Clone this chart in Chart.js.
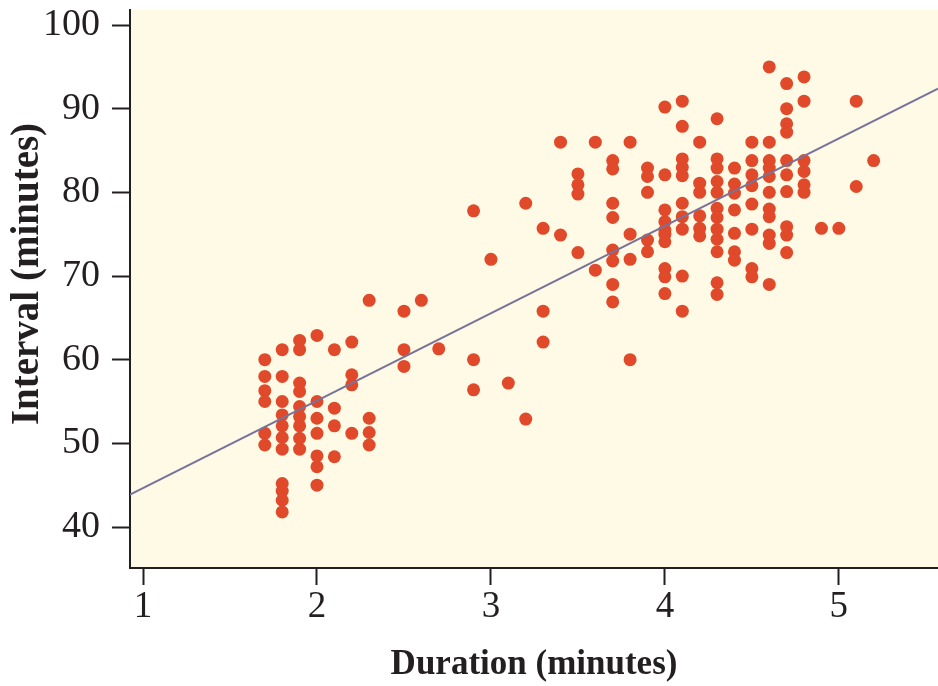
<!DOCTYPE html>
<html>
<head>
<meta charset="utf-8">
<script src="https://cdn.jsdelivr.net/npm/chart.js@4/dist/chart.umd.min.js"></script>
<style>
  html, body { margin: 0; padding: 0; background: #ffffff; }
  canvas { display: block; }
</style>
</head>
<body>
<canvas id="c" width="938" height="686"></canvas>
<script>
// eruption durations (minutes) and the intervals (minutes) observed at each
const durations = [1.7, 1.8, 1.9, 2.0, 2.1, 2.2, 2.3, 2.5, 2.6, 2.7, 2.9, 3.0, 3.1, 3.2, 3.3, 3.4, 3.5, 3.6, 3.7, 3.8, 3.9,
	4.0, 4.1, 4.2, 4.3, 4.4, 4.5, 4.6, 4.7, 4.8, 4.9, 5.0, 5.1, 5.2];
const intervals = [
	[60.0, 58.0, 56.3, 55.0, 51.2, 49.8],
	[61.2, 58.0, 55.0, 53.4, 52.1, 50.7, 49.3, 45.2, 44.3, 43.2, 41.8],
	[62.3, 61.2, 57.2, 56.2, 54.4, 53.2, 52.1, 50.6, 49.3],
	[62.9, 55.0, 53.0, 51.2, 48.5, 47.2, 45.0],
	[61.2, 54.2, 52.1, 48.4],
	[62.1, 58.2, 57.0, 51.2],
	[67.1, 53.0, 51.3, 49.8],
	[65.8, 61.2, 59.2],
	[67.1],
	[61.3],
	[77.8, 60.0, 56.4],
	[72.0],
	[57.2],
	[78.7, 52.9],
	[75.7, 65.8, 62.1],
	[86.0, 74.9],
	[82.2, 80.9, 79.8, 72.8],
	[86.0, 70.7],
	[83.8, 82.8, 78.7, 77.0, 73.1, 71.8, 69.0, 66.9],
	[86.0, 75.0, 72.0, 60.0],
	[82.9, 81.9, 80.0, 74.3, 72.9],
	[90.2, 82.1, 77.9, 76.5, 75.5, 75.0, 74.1, 70.9, 69.9, 67.9],
	[90.9, 87.9, 84.0, 83.0, 82.0, 78.7, 77.1, 75.6, 70.0, 65.8],
	[86.0, 81.1, 80.0, 77.2, 75.7, 74.8],
	[88.8, 84.0, 82.9, 81.3, 80.0, 78.1, 77.0, 75.6, 74.4, 72.9, 69.2, 67.8],
	[82.9, 81.0, 79.9, 77.9, 75.1, 72.9, 71.9],
	[86.0, 83.8, 82.1, 80.8, 78.6, 75.6, 70.9, 69.9],
	[95.0, 86.0, 83.8, 82.9, 81.9, 80.0, 78.0, 77.1, 74.9, 73.9, 69.0],
	[93.0, 90.0, 88.2, 87.2, 83.8, 82.1, 80.1, 75.9, 74.9, 72.8],
	[93.8, 90.9, 83.8, 82.5, 80.9, 80.0],
	[75.7],
	[75.7],
	[90.9, 80.7],
	[83.8]
];

// least-squares line
const fitIntercept = 34.2;
const fitSlope = 10.45;

const xTicks = [1, 2, 3, 4, 5];
const yTicks = [40, 50, 60, 70, 80, 90, 100];
const xRange = [0.925, 5.57];
const yRange = [35.1, 101.8];

// Build the point list
var points = [];
for(var i = 0; i < durations.length; i++){
	for(var j = 0; j < intervals[i].length; j++) points.push({'x':durations[i],'y':intervals[i][j]});
}
var fitLine = [
	{'x':xRange[0],'y':fitIntercept + fitSlope*xRange[0]},
	{'x':xRange[1],'y':fitIntercept + fitSlope*xRange[1]}
];

const serif = '"Liberation Serif", "Times New Roman", serif';
const ink = '#231f20';

// cream panel behind the points; the y title sits a little above centre
const panel = {
	'id':'panel',
	'beforeDraw': function(chart){
		var a = chart.chartArea, ctx = chart.ctx, sy = chart.scales.y;
		ctx.save();
		ctx.fillStyle = '#fefae6';
		ctx.fillRect(a.left, a.top, a.right - a.left, a.bottom - a.top);
		ctx.restore();
		if(!sy._titleShift){
			var orig = sy.drawTitle;
			sy.drawTitle = function(){
				this.ctx.save();
				this.ctx.translate(0,-15);
				orig.apply(this,arguments);
				this.ctx.restore();
			};
			sy._titleShift = true;
		}
	}
};

// fixed axis boxes, no overhang padding from the labels
function fixBox(size){
	return function(s){
		if(s.isHorizontal()) s.height = size;
		else s.width = size;
		s.paddingLeft = s.paddingRight = s.paddingTop = s.paddingBottom = 0;
	};
}

new Chart(document.getElementById('c'), {
	'type':'scatter',
	'data':{
		'datasets':[
			{'type':'line','data':fitLine,'borderColor':'#77739a','borderWidth':2,'pointRadius':0,'fill':false,'tension':0},
			{'data':points,'backgroundColor':'#e0492a','borderWidth':0,'pointRadius':6.5,'pointHoverRadius':6.5}
		]
	},
	'options':{
		'responsive':false,
		'animation':false,
		'events':[],
		'layout':{'autoPadding':false,'padding':{'left':0,'top':10,'right':0,'bottom':0}},
		'plugins':{'legend':{'display':false},'tooltip':{'enabled':false}},
		'scales':{
			'x':{
				'type':'linear','min':xRange[0],'max':xRange[1],
				'afterBuildTicks': function(s){ s.ticks = xTicks.map(function(v){ return {'value':v}; }); },
				'afterFit': fixBox(118),
				'border':{'display':true,'color':ink,'width':2},
				'grid':{'drawOnChartArea':false,'drawTicks':true,'tickLength':17,'tickColor':ink,'tickWidth':2,'color':ink},
				'ticks':{'color':ink,'padding':0,'maxRotation':0,'font':{'family':serif,'size':37}},
				'title':{'display':true,'text':'Duration (minutes)','color':ink,'padding':{'top':0,'bottom':0},'font':{'family':serif,'size':35,'weight':'bold'}}
			},
			'y':{
				'type':'linear','min':yRange[0],'max':yRange[1],
				'afterBuildTicks': function(s){ s.ticks = yTicks.map(function(v){ return {'value':v}; }); },
				'afterFit': fixBox(130),
				'border':{'display':true,'color':ink,'width':2},
				'grid':{'drawOnChartArea':false,'drawTicks':true,'tickLength':18,'tickColor':ink,'tickWidth':2,'color':ink},
				'ticks':{'color':ink,'padding':12,'font':{'family':serif,'size':38}},
				'title':{'display':true,'text':'Interval (minutes)','color':ink,'padding':{'top':5,'bottom':0},'font':{'family':serif,'size':39,'weight':'bold'}}
			}
		}
	},
	'plugins':[panel]
});
</script>
</body>
</html>
